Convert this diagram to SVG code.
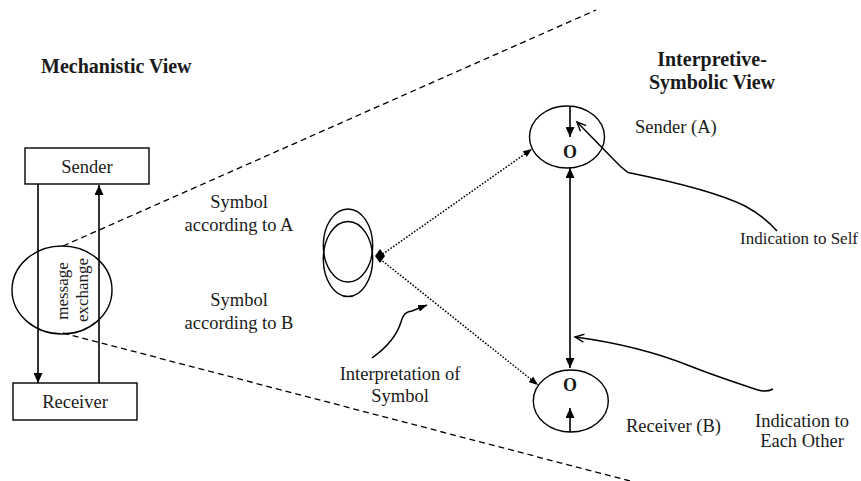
<svg xmlns="http://www.w3.org/2000/svg" width="861" height="481" viewBox="0 0 861 481">
<defs>
<style>
text{font-family:"Liberation Serif","Times New Roman",serif;fill:#1a1a1a;}
.t{font-size:18.5px;}
.ts{font-size:17px;}
.b{font-size:20px;font-weight:bold;}
.o{font-size:18px;font-weight:bold;}
.box{fill:#fff;stroke:#000;stroke-width:1.4;}
.el{fill:none;stroke:#000;stroke-width:1.4;}
.ln{fill:none;stroke:#000;stroke-width:1.6;}
.dash{fill:none;stroke:#000;stroke-width:1.3;stroke-dasharray:6 4;}
.dot{fill:none;stroke:#000;stroke-width:1.5;stroke-dasharray:1.6 1.6;}
.cv{fill:none;stroke:#000;stroke-width:1.5;}
</style>
<marker id="ah" markerUnits="userSpaceOnUse" markerWidth="10" markerHeight="9" refX="10" refY="4.5" orient="auto-start-reverse"><path d="M0,0 L10,4.5 L0,9 z" fill="#000"/></marker>
<marker id="ahs" markerUnits="userSpaceOnUse" markerWidth="9" markerHeight="7" refX="9" refY="3.5" orient="auto-start-reverse"><path d="M0,0 L9,3.5 L0,7 z" fill="#000"/></marker>
<marker id="open" markerUnits="userSpaceOnUse" markerWidth="12" markerHeight="10" refX="10" refY="5" orient="auto-start-reverse"><path d="M1,1 L10,5 L1,9" fill="none" stroke="#000" stroke-width="1.4"/></marker>
<marker id="dia" markerUnits="userSpaceOnUse" markerWidth="12" markerHeight="16" refX="6" refY="8" orient="0"><path d="M6,1 L11,8 L6,15 L1,8 z" fill="#000"/></marker>
</defs>

<g id="mechanistic-title"><text class="b" x="41" y="73">Mechanistic View</text></g>
<g id="interpretive-title">
<text class="b" x="712" y="66" text-anchor="middle">Interpretive-</text>
<text class="b" x="712" y="89" text-anchor="middle">Symbolic View</text>
</g>

<g id="connectors">
<line class="dash" x1="63" y1="246" x2="596" y2="10"/>
<line class="dash" x1="63" y1="333" x2="630" y2="481"/>
<line class="ln" x1="38" y1="184" x2="38" y2="383" marker-end="url(#ah)"/>
<line class="ln" x1="99" y1="383" x2="99" y2="185" marker-end="url(#ah)"/>
<line class="dot" x1="380" y1="256" x2="532" y2="149" marker-start="url(#dia)" marker-end="url(#ahs)"/>
<line class="dot" x1="380" y1="259" x2="538" y2="385" marker-end="url(#ahs)"/>
<line class="ln" x1="570" y1="106" x2="570" y2="137" marker-end="url(#ah)"/>
<line class="ln" x1="570" y1="432" x2="570" y2="408" marker-end="url(#ah)"/>
<line class="ln" x1="570" y1="168" x2="570" y2="368" marker-start="url(#ah)" marker-end="url(#ah)"/>
<path class="cv" d="M577,122 L620,166 L628,172.5 C665,180 715,191 745,206 C760,214 770,223 777,231" marker-start="url(#open)"/>
<path class="cv" d="M575,337 C620,343 655,352 690,366 C715,376 740,384 758,390 C764,392 769,391 773,389" marker-start="url(#open)"/>
<path class="cv" d="M372,358 C386,348 397,335 401,322 C403,315 405,312 412,311 L427,305" marker-end="url(#ahs)"/>
</g>

<g id="sender"><rect class="box" x="25" y="148" width="124" height="36"/><text class="t" x="87" y="172.5" text-anchor="middle">Sender</text></g>
<g id="receiver"><rect class="box" x="13" y="383" width="124" height="37"/><text class="t" x="75" y="408" text-anchor="middle">Receiver</text></g>
<g id="message-exchange">
<ellipse class="el" cx="62" cy="290" rx="50" ry="44"/>
<text class="ts" transform="translate(68,291) rotate(-90)" text-anchor="middle">message</text>
<text class="ts" transform="translate(88,290) rotate(-90)" text-anchor="middle">exchange</text>
</g>

<g id="symbol">
<ellipse class="el" cx="348" cy="245.5" rx="24.7" ry="36.5"/>
<ellipse class="el" cx="348" cy="259" rx="24.7" ry="37.5"/>
</g>
<g id="symbol-a-label">
<text class="t" x="239" y="207.5" text-anchor="middle">Symbol</text>
<text class="t" x="239" y="230.5" text-anchor="middle">according to A</text>
</g>
<g id="symbol-b-label">
<text class="t" x="239" y="306" text-anchor="middle">Symbol</text>
<text class="t" x="239" y="329" text-anchor="middle">according to B</text>
</g>
<g id="interpretation-label">
<text class="t" x="400" y="380" text-anchor="middle">Interpretation of</text>
<text class="t" x="400" y="402" text-anchor="middle">Symbol</text>
</g>

<g id="sender-a">
<ellipse class="el" cx="567" cy="137" rx="37.5" ry="31"/>
<text class="o" x="570" y="158" text-anchor="middle">O</text>
<text class="t" x="635" y="133">Sender (A)</text>
</g>
<g id="receiver-b">
<ellipse class="el" cx="570.8" cy="401" rx="37.5" ry="31"/>
<text class="o" x="570" y="390.5" text-anchor="middle">O</text>
<text class="t" x="626" y="431.5">Receiver (B)</text>
</g>
<g id="indication-self"><text class="ts" x="740" y="244">Indication to Self</text></g>
<g id="indication-each-other">
<text class="t" x="802" y="427" text-anchor="middle">Indication to</text>
<text class="t" x="802" y="447" text-anchor="middle">Each Other</text>
</g>
</svg>
